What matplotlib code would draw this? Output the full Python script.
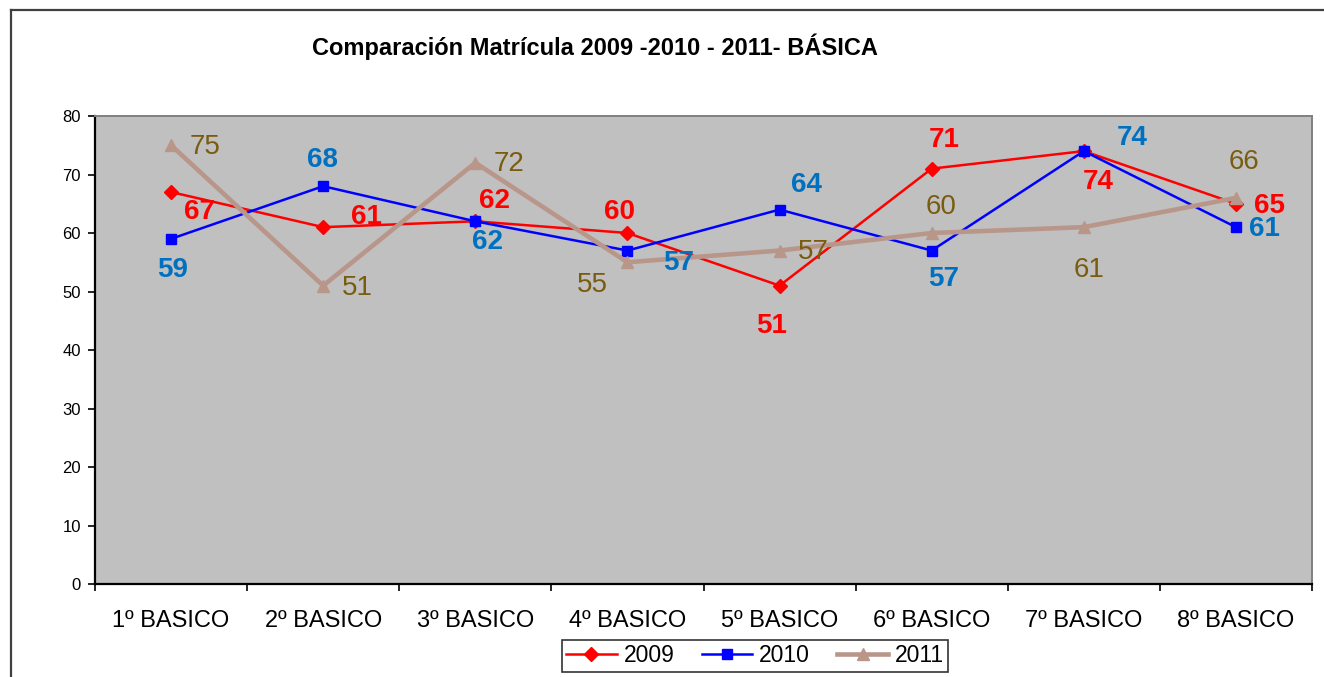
import matplotlib
matplotlib.use("Agg")
import matplotlib.pyplot as plt
from matplotlib.lines import Line2D

plt.rcParams['font.family'] = ['Liberation Sans', 'DejaVu Sans']

categories = ["1º BASICO", "2º BASICO", "3º BASICO", "4º BASICO",
              "5º BASICO", "6º BASICO", "7º BASICO", "8º BASICO"]
v2009 = [67, 61, 62, 60, 51, 71, 74, 65]
v2010 = [59, 68, 62, 57, 64, 57, 74, 61]
v2011 = [75, 51, 72, 55, 57, 60, 61, 66]
series_names = ["2009", "2010", "2011"]
title = "Comparación Matrícula 2009 -2010 - 2011- BÁSICA"

# label offsets (pixels: dx right, dy down) -- placement only
off2009 = [(28, 20), (43, -10), (19, -20), (-8, -21), (-8, 40), (12, -29), (14, 31), (34, 2)]
off2010 = [(1, 31), (-1, -26), (12, 21), (51, 12), (27, -25), (12, 28), (48, -13), (29, 2)]
off2011 = [(34, 2), (34, 2), (34, 1), (-35, 23), (34, 1), (9, -26), (5, 43), (8, -36)]

W, H = 1324, 677
fig = plt.figure(figsize=(W / 100, H / 100), dpi=100)
ax = fig.add_axes([95 / W, 1 - 584 / H, (1312 - 95) / W, (584 - 116) / H])
ax.set_facecolor('#C0C0C0')

x = list(range(len(categories)))
c2011 = '#B9968A'
l1, = ax.plot(x, v2009, color='#FF0000', lw=1.8, marker='D', ms=7.5, zorder=3)
l2, = ax.plot(x, v2010, color='#0000FF', lw=1.8, marker='s', ms=7.5, zorder=4)
l3, = ax.plot(x, v2011, color=c2011, lw=3.3, marker='^', ms=9, zorder=5)

def labels(vals, offs, color, weight):
    for xi, v, (dx, dy) in zip(x, vals, offs):
        ax.annotate(str(v), (xi, v), xytext=(dx, -dy), textcoords='offset pixels',
                    ha='center', va='center', fontsize=20, color=color,
                    fontweight=weight, zorder=6)

labels(v2009, off2009, '#FF0000', 'bold')
labels(v2010, off2010, '#0070C0', 'bold')
labels(v2011, off2011, '#7A5C10', 'normal')

ax.set_xlim(-0.5, len(categories) - 0.5)
ax.set_ylim(0, 80)
ax.set_yticks(range(0, 81, 10))
ax.set_xticks(x)
ax.set_xticklabels(categories, fontsize=17)
ax.set_xticks([i - 0.5 for i in range(len(categories) + 1)], minor=True)
ax.tick_params(axis='x', which='major', length=0, pad=19)
ax.tick_params(axis='x', which='minor', length=5, width=1.2, color='black')
ax.tick_params(axis='y', length=5, width=1.2, labelsize=12, pad=5)

for s in ['left', 'bottom']:
    ax.spines[s].set_color('black')
    ax.spines[s].set_linewidth(1.6)
for s in ['top', 'right']:
    ax.spines[s].set_color('#808080')
    ax.spines[s].set_linewidth(1.4)

fig.text(595 / W, 1 - 47 / H, title, ha='center', va='center',
         fontsize=17, fontweight='bold')

leg = fig.legend([l1, l2, l3], series_names, loc='center', ncol=3,
                 bbox_to_anchor=(755 / W, 1 - 656 / H), fontsize=16.5,
                 frameon=True, fancybox=False, edgecolor='black',
                 handlelength=2.2, handletextpad=0.3, columnspacing=1.2,
                 borderpad=0.2)
leg.get_frame().set_linewidth(1.2)

# outer chart border
fig.add_artist(Line2D([11 / W, 11 / W], [0, 1 - 10 / H], transform=fig.transFigure,
                      color='#404040', lw=1.6))
fig.add_artist(Line2D([11 / W, 1], [1 - 10 / H, 1 - 10 / H], transform=fig.transFigure,
                      color='#404040', lw=1.6))

fig.savefig('out.png', dpi=100)
